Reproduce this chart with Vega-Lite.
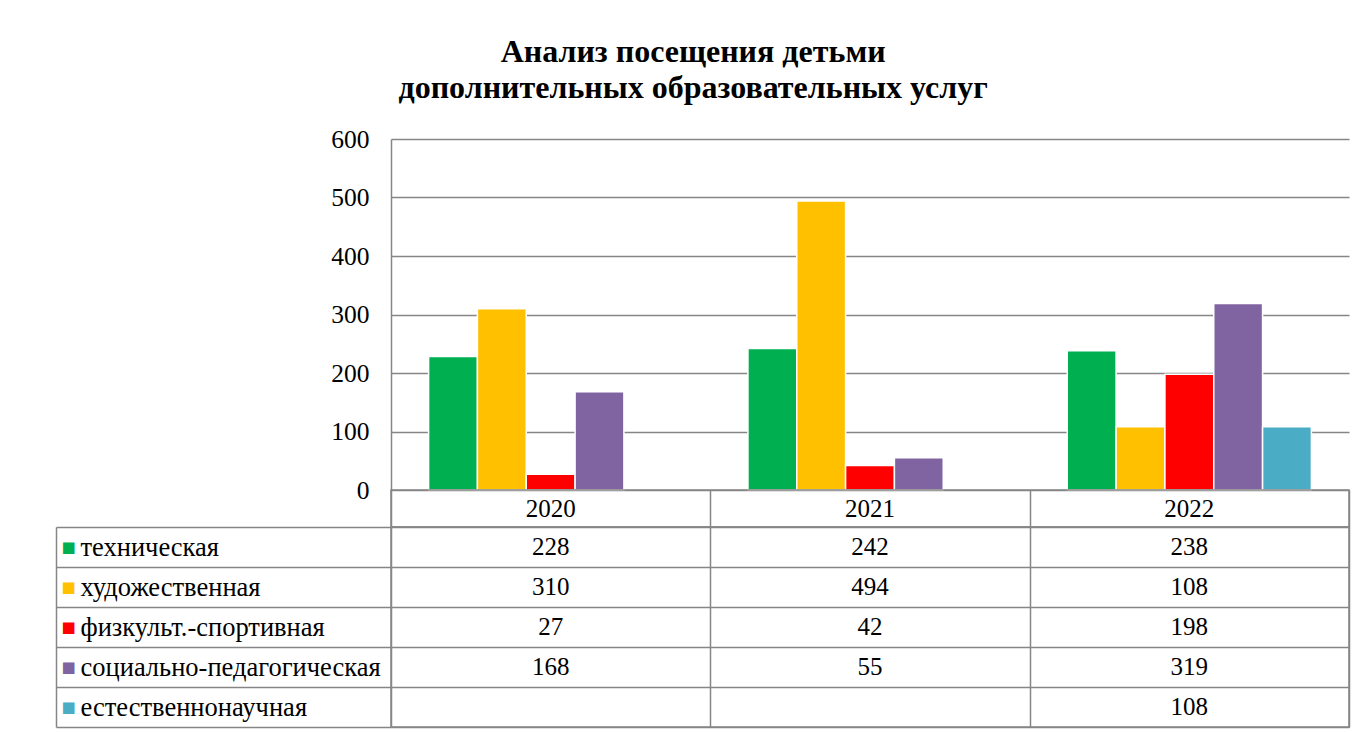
{
  "$schema": "https://vega.github.io/schema/vega-lite/v6.json",
  "padding": {"left": 54, "top": 36, "right": 10, "bottom": 2},
  "background": "white",
  "config": {"font": "Liberation Serif"},
  "spacing": 0,
  "bounds": "flush",
  "title": {
    "text": ["Анализ посещения детьми", "дополнительных образовательных услуг"],
    "font": "Liberation Serif",
    "fontSize": 32,
    "fontWeight": "bold",
    "color": "black",
    "lineHeight": 36,
    "anchor": "middle",
    "dx": -9,
    "offset": 22
  },
  "datasets": {
    "visits": [
      {"year": "2020", "series": "техническая", "value": 228},
      {"year": "2020", "series": "художественная", "value": 310},
      {"year": "2020", "series": "физкульт.-спортивная", "value": 27},
      {"year": "2020", "series": "социально-педагогическая", "value": 168},
      {"year": "2021", "series": "техническая", "value": 242},
      {"year": "2021", "series": "художественная", "value": 494},
      {"year": "2021", "series": "физкульт.-спортивная", "value": 42},
      {"year": "2021", "series": "социально-педагогическая", "value": 55},
      {"year": "2022", "series": "техническая", "value": 238},
      {"year": "2022", "series": "художественная", "value": 108},
      {"year": "2022", "series": "физкульт.-спортивная", "value": 198},
      {"year": "2022", "series": "социально-педагогическая", "value": 319},
      {"year": "2022", "series": "естественнонаучная", "value": 108}
    ],
    "years": [{"year": "2020"}, {"year": "2021"}, {"year": "2022"}]
  },
  "vconcat": [
    {
      "width": 958,
      "height": 351,
      "view": {"stroke": null},
      "data": {"name": "visits"},
      "mark": {"type": "bar", "stroke": "white", "strokeWidth": 1.5},
      "encoding": {
        "x": {"field": "year", "type": "nominal", "scale": {"domain": ["2020", "2021", "2022"], "paddingInner": 0, "paddingOuter": 0}, "axis": null},
        "xOffset": {"field": "series", "type": "nominal", "scale": {"domain": ["техническая", "художественная", "физкульт.-спортивная", "социально-педагогическая", "естественнонаучная"], "paddingInner": 0, "paddingOuter": 0.77}},
        "y": {
          "field": "value", "type": "quantitative",
          "scale": {"domain": [0, 600], "nice": false},
          "axis": {"values": [0, 100, 200, 300, 400, 500, 600], "title": null, "ticks": false, "labelPadding": 22, "labelFont": "Liberation Serif", "labelFontSize": 25.5, "labelColor": "black", "domain": true, "domainColor": "#868686", "domainWidth": 1.5, "grid": true, "gridColor": "#868686", "gridWidth": 1.5}
        },
        "color": {
          "field": "series", "type": "nominal",
          "scale": {"domain": ["техническая", "художественная", "физкульт.-спортивная", "социально-педагогическая", "естественнонаучная"], "range": ["#00B050", "#FFC000", "#FF0000", "#8064A2", "#4BACC6"]},
          "legend": null
        }
      }
    },
    {
      "width": 958,
      "height": 37,
      "view": {"stroke": "#868686", "strokeWidth": 1.5},
      "data": {"name": "years"},
      "mark": {"type": "text", "fontSize": 25, "baseline": "middle", "font": "Liberation Serif", "color": "black"},
      "encoding": {
        "x": {"field": "year", "type": "nominal", "scale": {"domain": ["2020", "2021", "2022"], "paddingInner": 0, "paddingOuter": 0},
          "axis": {"grid": true, "tickBand": "extent", "gridColor": "#868686", "gridWidth": 1.5, "labels": false, "ticks": false, "domain": false, "title": null}},
        "text": {"field": "year"}
      }
    },
    {
      "width": 958,
      "height": 200,
      "view": {"stroke": "#868686", "strokeWidth": 1.5},
      "data": {"name": "visits"},
      "encoding": {
        "x": {"field": "year", "type": "nominal", "scale": {"domain": ["2020", "2021", "2022"], "paddingInner": 0, "paddingOuter": 0},
          "axis": {"grid": true, "tickBand": "extent", "gridColor": "#868686", "gridWidth": 1.5, "labels": false, "ticks": false, "domain": false, "title": null}}
      },
      "layer": [
        {
          "mark": {"type": "text", "fontSize": 25, "baseline": "middle", "font": "Liberation Serif", "color": "black"},
          "encoding": {
            "text": {"field": "value"},
            "y": {
              "field": "series", "type": "nominal",
              "scale": {"domain": ["техническая", "художественная", "физкульт.-спортивная", "социально-педагогическая", "естественнонаучная"], "paddingInner": 0, "paddingOuter": 0},
              "axis": {"orient": "left", "tickBand": "extent", "grid": true, "gridColor": "#868686", "gridWidth": 1.5, "ticks": true, "tickSize": 335, "tickColor": "#868686", "tickWidth": 1.5, "domain": false, "labelAlign": "left", "labelBaseline": "middle", "labelPadding": -24, "labelFontSize": 26.5, "labelFont": "Liberation Serif", "labelColor": "black", "labelLimit": 400, "title": null}
            }
          }
        },
        {
          "mark": {"type": "text", "text": "", "opacity": 0},
          "encoding": {
            "y": {
              "field": "series", "type": "nominal",
              "scale": {"domain": ["техническая", "художественная", "физкульт.-спортивная", "социально-педагогическая", "естественнонаучная"], "paddingInner": 0, "paddingOuter": 0},
              "axis": {"orient": "left", "offset": 335, "domain": true, "domainColor": "#868686", "domainWidth": 1.5, "ticks": false, "tickSize": 0, "grid": false, "labelExpr": "'■'",
                "labelColor": {"condition": [
                  {"test": "datum.value === 'техническая'", "value": "#00B050"},
                  {"test": "datum.value === 'художественная'", "value": "#FFC000"},
                  {"test": "datum.value === 'физкульт.-спортивная'", "value": "#FF0000"},
                  {"test": "datum.value === 'социально-педагогическая'", "value": "#8064A2"}
                ], "value": "#4BACC6"},
                "labelAlign": "left", "labelBaseline": "middle", "labelPadding": -5, "labelFont": "DejaVu Sans", "labelFontSize": 15, "title": null}
            }
          }
        }
      ],
      "resolve": {"axis": {"y": "independent"}}
    }
  ]
}
